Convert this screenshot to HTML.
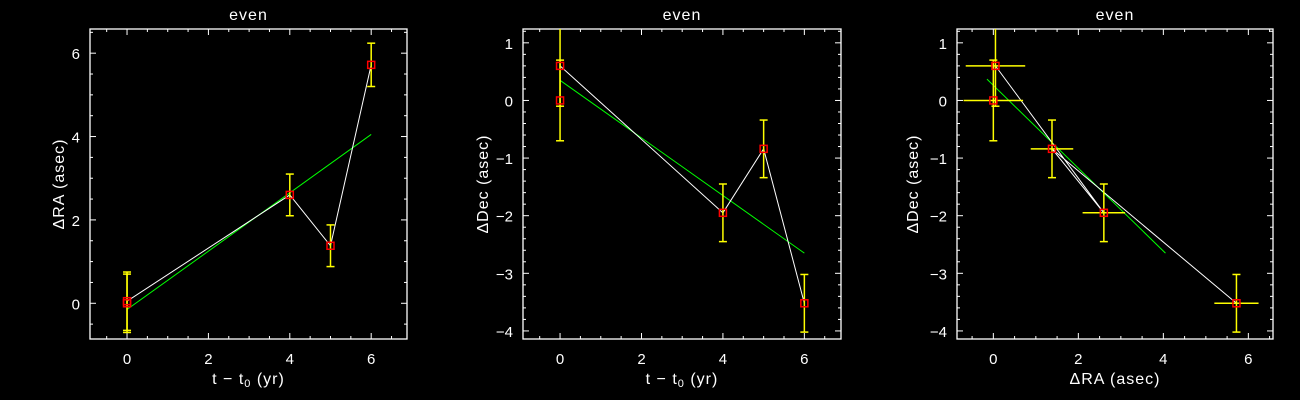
<!DOCTYPE html>
<html><head><meta charset="utf-8"><style>
html,body{margin:0;padding:0;background:#000;}
svg{display:block;}
text{font-family:"Liberation Sans",sans-serif;fill:#fff;}
</style></head><body>
<svg id="fig" width="1300" height="400" xmlns="http://www.w3.org/2000/svg"></svg>
<script>
const times = [0, 0, 4, 5, 6];
const raVals = [0.0, 0.05, 2.6, 1.38, 5.72];
const decVals = [0.0, 0.6, -1.95, -0.84, -3.52];
const raErr = [0.7, 0.7, 0.5, 0.5, 0.52];
const decErr = [0.7, 0.7, 0.5, 0.5, 0.5];
const lineOrder = [1, 2, 3, 4];
const fitRA = [[0, -0.15], [6, 4.05]];
const fitDecT = [[0, 0.35], [6, -2.65]];
const fitDecRA = [[-0.15, 0.37], [4.05, -2.65]];
const xTicksT = [0, 2, 4, 6];
const yTicksRA = [0, 2, 4, 6];
const yTicksDec = [-4, -3, -2, -1, 0, 1];
const xTicksRA = [0, 2, 4, 6];

const NS = "http://www.w3.org/2000/svg";
const svg = document.getElementById('fig');
function el(tag, attrs, parent) {
  const e = document.createElementNS(NS, tag);
  for (const k in attrs) e.setAttribute(k, attrs[k]);
  (parent || svg).appendChild(e);
  return e;
}

const panels = [
  {name:'ra-vs-time', box:[90,29,407,339], xr:[-0.91,6.88], yr:[-0.857,6.58], xt:xTicksT, yt:yTicksRA, xm:0.5, ym:0.5,
   xs:times, ys:raVals, xe:null, ye:raErr, fit:fitRA, xlab:'t − t', xsub:true, ylab:'ΔRA (asec)', ylx:64},
  {name:'dec-vs-time', box:[523,29,841,339], xr:[-0.91,6.9], yr:[-4.14,1.24], xt:xTicksT, yt:yTicksDec, xm:0.5, ym:0.2,
   xs:times, ys:decVals, xe:null, ye:decErr, fit:fitDecT, xlab:'t − t', xsub:true, ylab:'ΔDec (asec)', ylx:488},
  {name:'dec-vs-ra', box:[957,29,1273,339], xr:[-0.855,6.58], yr:[-4.14,1.24], xt:xTicksRA, yt:yTicksDec, xm:0.5, ym:0.2,
   xs:raVals, ys:decVals, xe:raErr, ye:decErr, fit:fitDecRA, xlab:'ΔRA (asec)', xsub:false, ylab:'ΔDec (asec)', ylx:918}
];

panels.forEach(p => {
  const [x0,y0,x1,y1] = p.box;
  const g = el('g', {});
  
  
  const X = v => x0 + (v - p.xr[0]) / (p.xr[1] - p.xr[0]) * (x1 - x0);
  const Y = v => y1 - (v - p.yr[0]) / (p.yr[1] - p.yr[0]) * (y1 - y0);
  const clip = 'clip-' + p.name;
  const cp = el('clipPath', {id: clip}, g);
  el('rect', {x:x0, y:y0, width:x1-x0, height:y1-y0}, cp);

  const t = el('text', {x:(x0+x1)/2, y:20, 'text-anchor':'middle', 'font-size':16, 'letter-spacing':1}, g);
  t.textContent = 'even';
  
  

  const frame = el('rect', {x:x0, y:y0, width:x1-x0, height:y1-y0, fill:'none', stroke:'#fff', 'stroke-width':1.3}, g);
  
  

  for (let v = Math.ceil(p.xr[0]/p.xm)*p.xm; v <= p.xr[1]; v += p.xm) {
    const major = Math.abs(v - Math.round(v/2)*2) < 1e-6;
    const L = major ? 6 : 3;
    el('line', {x1:X(v), x2:X(v), y1:y1, y2:y1-L, stroke:'#fff'}, g);
    el('line', {x1:X(v), x2:X(v), y1:y0, y2:y0+L, stroke:'#fff'}, g);
  }
  const ymaj = p.yt.length > 1 ? p.yt[1]-p.yt[0] : 1;
  for (let v = Math.ceil(p.yr[0]/p.ym)*p.ym; v <= p.yr[1]; v += p.ym) {
    const major = Math.abs(v - Math.round(v/ymaj)*ymaj) < 1e-6;
    const L = major ? 6 : 3;
    el('line', {x1:x0, x2:x0+L, y1:Y(v), y2:Y(v), stroke:'#fff'}, g);
    el('line', {x1:x1, x2:x1-L, y1:Y(v), y2:Y(v), stroke:'#fff'}, g);
  }
  p.xt.forEach(v => {
    const tx = el('text', {x:X(v), y:y1+25, 'text-anchor':'middle', 'font-size':15}, g);
    tx.textContent = String(v);
    
    
  });
  p.yt.forEach(v => {
    const tx = el('text', {x:x0-10, y:Y(v)+6, 'text-anchor':'end', 'font-size':15}, g);
    tx.textContent = v < 0 ? '−' + Math.abs(v) : String(v);
    
    
  });
  const xl = el('text', {x:(x0+x1)/2, y:y1+45, 'text-anchor':'middle', 'font-size':16, 'letter-spacing':1}, g);
  
  
  if (p.xsub) {
    xl.appendChild(document.createTextNode('t − t'));
    const s = el('tspan', {'font-size':11, dy:3}, xl); s.textContent = '0';
    const s2 = el('tspan', {dy:-3}, xl); s2.textContent = ' (yr)';
  } else xl.textContent = p.xlab;
  const yl = el('text', {x:p.ylx, y:(y0+y1)/2, 'text-anchor':'middle', 'font-size':16, 'letter-spacing':1, transform:`rotate(-90 ${p.ylx} ${(y0+y1)/2})`}, g);
  yl.textContent = p.ylab;
  
  

  const dg = el('g', {'clip-path':`url(#${clip})`}, g);
  const fl = el('line', {x1:X(p.fit[0][0]), y1:Y(p.fit[0][1]), x2:X(p.fit[1][0]), y2:Y(p.fit[1][1]), stroke:'#00ff00', 'stroke-width':1}, dg);
  
  
  const pts = lineOrder.map(i => X(p.xs[i]) + ',' + Y(p.ys[i])).join(' ');
  const pl = el('polyline', {points:pts, fill:'none', stroke:'#fff', 'stroke-width':1}, dg);
  
  
  p.xs.forEach((xv, i) => {
    const yv = p.ys[i];
    const eb = el('g', {stroke:'#ffff00', 'stroke-width':1.5}, dg);
    
    
    const ye = p.ye[i];
    el('line', {x1:X(xv), x2:X(xv), y1:Y(yv-ye), y2:Y(yv+ye)}, eb);
    el('line', {x1:X(xv)-4, x2:X(xv)+4, y1:Y(yv-ye), y2:Y(yv-ye)}, eb);
    el('line', {x1:X(xv)-4, x2:X(xv)+4, y1:Y(yv+ye), y2:Y(yv+ye)}, eb);
    if (p.xe) {
      const xe = p.xe[i];
      el('line', {x1:X(xv-xe), x2:X(xv+xe), y1:Y(yv), y2:Y(yv)}, eb);
    }
  });
  p.xs.forEach((xv, i) => {
    const m = el('rect', {x:X(xv)-3.5, y:Y(p.ys[i])-3.5, width:7, height:7, fill:'none', stroke:'#ff0000', 'stroke-width':1.5}, dg);
    
    
  });
});
</script>
</body></html>
